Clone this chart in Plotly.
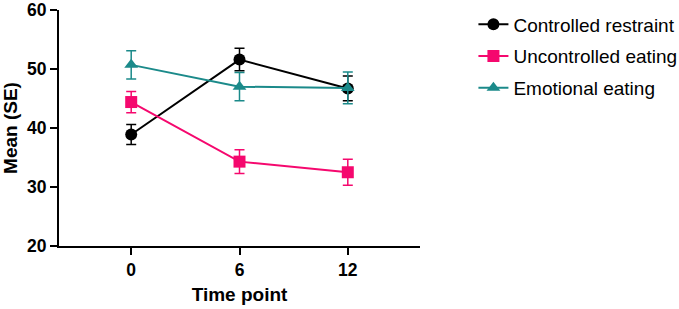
import plotly.graph_objects as go

time_points = [0, 6, 12]
series_names = ["Controlled restraint", "Uncontrolled eating", "Emotional eating"]
controlled_mean = [38.9, 51.6, 46.7]
controlled_se = [1.7, 1.9, 2.1]
uncontrolled_mean = [44.4, 34.3, 32.5]
uncontrolled_se = [1.8, 2.0, 2.2]
emotional_mean = [50.7, 47.0, 46.8]
emotional_se = [2.4, 2.4, 2.7]

colors = ["#000000", "#F5086E", "#1B8A8A"]
symbols = ["circle", "square", "triangle-up"]
means = [controlled_mean, uncontrolled_mean, emotional_mean]
ses = [controlled_se, uncontrolled_se, emotional_se]

fig = go.Figure()
for name, m, s, c, sym in zip(series_names, means, ses, colors, symbols):
    fig.add_trace(go.Scatter(
        x=time_points, y=m, name=name, mode="lines+markers",
        line=dict(color=c, width=2),
        marker=dict(color=c, symbol=sym, size=12),
        error_y=dict(type="data", array=s, visible=True, color=c, thickness=1.5, width=5),
        legendgroup=name,
    ))

font_family = "Liberation Sans, Arial, sans-serif"
fig.update_layout(
    width=679, height=309,
    margin=dict(l=59, r=259, t=10, b=63, autoexpand=False),
    plot_bgcolor="white", paper_bgcolor="white",
    font=dict(family=font_family, color="black"),
    showlegend=True,
    legend=dict(x=1.148, y=1.019, xanchor="left", yanchor="top",
                font=dict(size=19, family=font_family, color="black"),
                tracegroupgap=4, itemwidth=30, bgcolor="rgba(0,0,0,0)"),
    xaxis=dict(range=[-4, 16], tickvals=time_points, ticktext=["0", "6", "12"],
               showline=True, linecolor="black", linewidth=2, ticks="outside",
               ticklen=7, tickwidth=2, tickcolor="black", showgrid=False, zeroline=False,
               tickfont=dict(size=17.5, family=font_family, weight="bold"),
               ticklabeloverflow="allow", automargin=False,
               title=dict(text="<b>Time point</b>", font=dict(size=19), standoff=9)),
    yaxis=dict(range=[20, 60], tickvals=[20, 30, 40, 50, 60],
               showline=True, linecolor="black", linewidth=2, ticks="outside",
               ticklen=7, tickwidth=2, tickcolor="black", showgrid=False, zeroline=False,
               tickfont=dict(size=17.5, family=font_family, weight="bold"),
               ticklabeloverflow="allow", automargin=False,
               title=dict(text="<b>Mean (SE)</b>", font=dict(size=19), standoff=5)),
)
fig.write_html("out.html")
